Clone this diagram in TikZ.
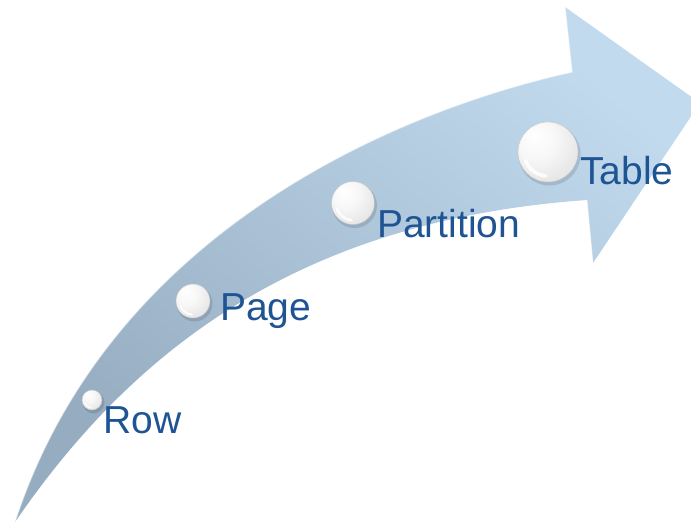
\documentclass[tikz,border=0pt]{standalone}
\usepackage{fontspec}
\setmainfont{Liberation Sans}
\definecolor{lbl}{RGB}{31,84,148}
\definecolor{arrlight}{RGB}{194,218,238}
\definecolor{arrdark}{RGB}{150,173,193}
\pgfdeclareradialshading{pearl}{\pgfpoint{-12bp}{14bp}}{color(0bp)=(white); color(16bp)=(white!97!black); color(36bp)=(white!89!black); color(50bp)=(white!80!black); color(70bp)=(white!72!black)}
\tikzset{
  lab/.style={text=lbl, inner sep=0pt, anchor=base west, font=\fontsize{39}{46}\selectfont},
  pearlball/.style={circle, inner sep=0pt, shading=pearl, draw=black!22, line width=0.4pt},
}
\newcommand{\pearlglint}[2]{%
  \begin{scope}[shift={(#1.center)}, y=1pt]
    \draw[white, opacity=0.85, line width={0.12*#2}, line cap=round] (200:{0.8*#2}) arc[start angle=200, end angle=265, radius={0.8*#2}];
  \end{scope}}
\begin{document}
\begin{tikzpicture}[x=1pt,y=-1pt]
\useasboundingbox (0,0) rectangle (691,523);
\begin{scope}
\clip (0,0) rectangle (691,523);
\coordinate (tail) at (15,522);
\coordinate (nt) at (572,72);
\coordinate (ht) at (565,7);
\coordinate (tip) at (700,103);
\coordinate (hb) at (593,263);
\coordinate (nb) at (587,200);
\shade[top color=arrlight, bottom color=arrdark, shading angle=-40]
  (tail) .. controls (110,230) and (400,110) .. (nt)
  -- (ht) -- (tip) -- (hb) -- (nb)
  .. controls (287,221) and (125,362) .. (tail)
  -- cycle;
\draw[white, opacity=0.55, line width=1.2pt]
  (tail) .. controls (110,230) and (400,110) .. (nt) -- (ht);
\draw[white, opacity=0.45, line width=1pt] (hb) -- (nb);
\end{scope}
% balls
\foreach \x/\y/\r in {92/400/10, 193/301/17, 353/203/21.5, 548/152/30}{
  \fill[black, opacity=0.12] (\x+1.5,\y+2.5) circle[radius=\r+1];
}
\node[pearlball, minimum size=20pt] (b1) at (92,400) {};
\node[pearlball, minimum size=34pt] (b2) at (193,301) {};
\node[pearlball, minimum size=43pt] (b3) at (353,203) {};
\node[pearlball, minimum size=60pt] (b4) at (548,152) {};
\pearlglint{b1}{10}
\pearlglint{b2}{17}
\pearlglint{b3}{21.5}
\pearlglint{b4}{30}
% labels
\node[lab] (t1) at (103,433) {Row};
\node[lab] (t2) at (220,320) {Page};
\node[lab] (t3) at (377,237) {Partition};
\node[lab] (t4) at (580,184) {Table};
\end{tikzpicture}
\end{document}
